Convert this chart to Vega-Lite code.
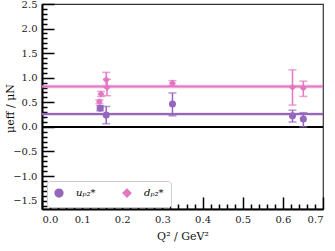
{
  "$schema": "https://vega.github.io/schema/vega-lite/v6.json",
  "width": 281,
  "height": 205,
  "autosize": {"type": "none"},
  "padding": {"left": 42, "top": 4, "right": 12, "bottom": 42},
  "config": {
    "view": {"stroke": "#333", "strokeWidth": 1.2, "fill": null},
    "font": "DejaVu Serif",
    "axis": {"grid": false, "zindex": 1, "labelOverlap": false, "labelFont": "DejaVu Serif", "titleFont": "DejaVu Serif", "labelColor": "#222", "titleColor": "#111", "domainColor": "#000", "tickColor": "#000", "tickOpacity": 1}
  },
  "datasets": {
    "pts": [
      {"q2": 0.145, "val": 0.38, "lo": 0.33, "hi": 0.43, "q": "uₚ₂*"},
      {"q2": 0.160, "val": 0.24, "lo": 0.065, "hi": 0.415, "q": "uₚ₂*"},
      {"q2": 0.325, "val": 0.465, "lo": 0.225, "hi": 0.69, "q": "uₚ₂*"},
      {"q2": 0.624, "val": 0.225, "lo": 0.10, "hi": 0.34, "q": "uₚ₂*"},
      {"q2": 0.651, "val": 0.16, "lo": 0.0, "hi": 0.29, "q": "uₚ₂*"},
      {"q2": 0.143, "val": 0.51, "lo": 0.47, "hi": 0.55, "q": "dₚ₂*"},
      {"q2": 0.147, "val": 0.67, "lo": 0.62, "hi": 0.72, "q": "dₚ₂*"},
      {"q2": 0.160, "val": 0.96, "lo": 0.82, "hi": 1.11, "q": "dₚ₂*"},
      {"q2": 0.162, "val": 0.80, "lo": 0.635, "hi": 0.97, "q": "dₚ₂*"},
      {"q2": 0.325, "val": 0.89, "lo": 0.84, "hi": 0.94, "q": "dₚ₂*"},
      {"q2": 0.624, "val": 0.805, "lo": 0.445, "hi": 1.16, "q": "dₚ₂*"},
      {"q2": 0.651, "val": 0.79, "lo": 0.62, "hi": 0.93, "q": "dₚ₂*"}
    ],
    "bands": [
      {"val": 0.26, "lo": 0.225, "hi": 0.295, "q": "uₚ₂*"},
      {"val": 0.82, "lo": 0.78, "hi": 0.86, "q": "dₚ₂*"}
    ]
  },
  "resolve": {"axis": {"x": "independent", "y": "independent"}},
  "layer": [
    {
      "data": {"name": "pts"},
      "mark": {"type": "point", "filled": true, "opacity": 1, "size": 50},
      "encoding": {
        "x": {"field": "q2", "type": "quantitative", "scale": {"domain": [0, 0.7], "nice": false}, "axis": {"orient": "bottom", "values": [0,0.1,0.2,0.3,0.4,0.5,0.6,0.7], "format": ".1f", "ticks": true, "tickSize": -12, "tickWidth": 1.5, "domainWidth": 2, "labelPadding": 17, "labelFontSize": 10, "title": "Q² / GeV²", "titleFontSize": 11, "titleFontWeight": "normal", "titlePadding": 6}},
        "y": {"field": "val", "type": "quantitative", "scale": {"domain": [-1.67, 2.5], "nice": false, "zero": false}, "axis": {"orient": "left", "values": [-1.5,-1.0,-0.5,0,0.5,1.0,1.5,2.0,2.5], "format": ".1f", "ticks": true, "tickSize": -12, "tickWidth": 1.5, "domainWidth": 2, "labelPadding": 17, "labelFontSize": 10, "title": "μeff / μN", "titleFontSize": 11, "titleFontWeight": "normal", "titleX": -27, "titleY": 104}},
        "color": {"field": "q", "type": "nominal", "scale": {"domain": ["uₚ₂*", "dₚ₂*"], "range": ["#9467bd", "#e377c2"]}, "legend": {"orient": "none", "legendX": 5, "legendY": 177, "direction": "horizontal", "title": null, "padding": 7, "strokeColor": "#ccc", "fillColor": "#fff", "cornerRadius": 3, "labelFont": "DejaVu Serif", "labelFontStyle": "italic", "labelFontSize": 10, "symbolSize": 60, "symbolOpacity": 1, "columnPadding": 24, "labelOffset": 12}},
        "shape": {"field": "q", "type": "nominal", "scale": {"domain": ["uₚ₂*", "dₚ₂*"], "range": ["circle", "diamond"]}}
      }
    },
    {
      "data": {"name": "bands"},
      "mark": {"type": "rect", "opacity": 0.3},
      "encoding": {
        "y": {"field": "lo", "type": "quantitative", "axis": null},
        "y2": {"field": "hi"},
        "fill": {"field": "q", "type": "nominal", "scale": {"domain": ["uₚ₂*", "dₚ₂*"], "range": ["#9467bd", "#e377c2"]}, "legend": null}
      }
    },
    {
      "data": {"name": "bands"},
      "mark": {"type": "rule", "strokeWidth": 2},
      "encoding": {
        "y": {"field": "val", "type": "quantitative", "axis": null},
        "stroke": {"field": "q", "type": "nominal", "scale": {"domain": ["uₚ₂*", "dₚ₂*"], "range": ["#9467bd", "#e377c2"]}, "legend": null}
      }
    },
    {
      "data": {"values": [{"z": 0}]},
      "mark": {"type": "rule", "strokeWidth": 2, "color": "#000"},
      "encoding": {
        "y": {"field": "z", "type": "quantitative", "axis": null}
      }
    },
    {
      "data": {"name": "pts"},
      "mark": {"type": "rule", "strokeWidth": 1.5},
      "encoding": {
        "x": {"field": "q2", "type": "quantitative", "axis": {"orient": "top", "offset": -205, "values": [0.02,0.04,0.06,0.08,0.12,0.14,0.16,0.18,0.22,0.24,0.26,0.28,0.32,0.34,0.36,0.38,0.42,0.44,0.46,0.48,0.52,0.54,0.56,0.58,0.62,0.64,0.66,0.68], "labels": false, "domain": false, "ticks": true, "tickSize": 5, "tickWidth": 1.5, "title": null}},
        "y": {"field": "lo", "type": "quantitative", "axis": {"orient": "right", "offset": -281, "values": [-1.6,-1.4,-1.3,-1.2,-1.1,-0.9,-0.8,-0.7,-0.6,-0.4,-0.3,-0.2,-0.1,0.1,0.2,0.3,0.4,0.6,0.7,0.8,0.9,1.1,1.2,1.3,1.4,1.6,1.7,1.8,1.9,2.1,2.2,2.3,2.4], "labels": false, "domain": false, "ticks": true, "tickSize": 5, "tickWidth": 1.5, "title": null}},
        "y2": {"field": "hi"},
        "stroke": {"field": "q", "type": "nominal", "legend": null}
      }
    },
    {
      "data": {"name": "pts"},
      "mark": {"type": "tick", "orient": "horizontal", "size": 8, "thickness": 1.5},
      "encoding": {
        "x": {"field": "q2", "type": "quantitative", "axis": null},
        "y": {"field": "lo", "type": "quantitative", "axis": null},
        "fill": {"field": "q", "type": "nominal", "legend": null}
      }
    },
    {
      "data": {"name": "pts"},
      "mark": {"type": "tick", "orient": "horizontal", "size": 8, "thickness": 1.5},
      "encoding": {
        "x": {"field": "q2", "type": "quantitative", "axis": null},
        "y": {"field": "hi", "type": "quantitative", "axis": null},
        "fill": {"field": "q", "type": "nominal", "legend": null}
      }
    }
  ]
}
